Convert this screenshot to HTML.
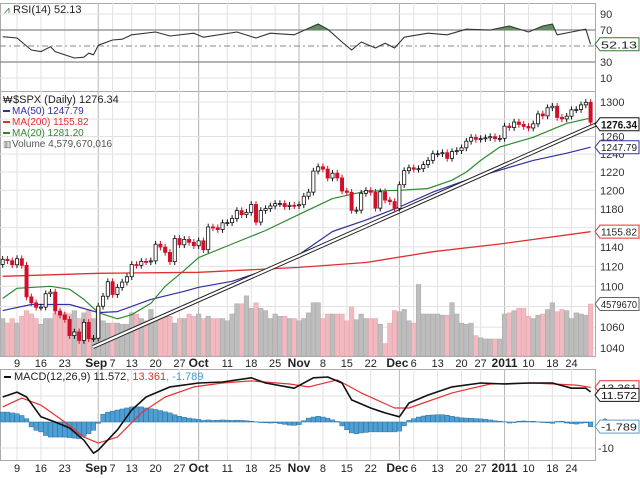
<!DOCTYPE html>
<html><head><meta charset="utf-8"><style>
body{margin:0;background:#fff;}
svg{display:block;font-family:"Liberation Sans",sans-serif;}
</style></head><body>
<svg id="c" width="640" height="478" viewBox="0 0 640 478"></svg>
<script>
const closes=[1127.24,1125.81,1121.64,1127.79,1121.06,1089.47,1083.61,1079.25,1079.38,1092.54,1094.16,1075.63,1071.69,1067.36,1051.87,1055.33,1047.22,1064.59,1048.92,1049.33,
1080.29,1090.10,1104.51,1091.84,1098.87,1104.18,1109.55,1121.90,1121.10,1125.07,1124.66,1125.59,1142.71,1139.78,1134.28,1124.83,1148.67,1142.16,1147.70,1144.73,1141.20,
1146.24,1137.03,1160.75,1159.97,1158.06,1165.15,1165.32,1169.77,1178.10,1173.81,1176.19,1184.71,1165.90,1178.17,1180.26,1183.08,1185.62,1185.64,1182.45,1183.78,1183.26,
1184.38,1193.57,1197.96,1221.06,1225.85,1223.25,1213.40,1218.71,1213.54,1199.21,1197.75,1178.34,1178.59,1196.69,1199.73,1197.84,1180.73,1198.35,1189.40,1187.76,1180.55,
1206.07,1221.53,1224.71,1223.12,1223.75,1228.28,1233.00,1240.40,1240.46,1241.59,1235.23,1242.87,1243.91,1247.08,1254.60,1258.84,1256.77,1257.54,1258.51,1259.78,1257.64,1257.88,
1271.87,1270.20,1276.56,1273.85,1271.50,1269.75,1274.48,1285.96,1283.76,1293.24,1295.02,1281.92,1280.26,1283.35,1290.84,1291.18,1296.63,1299.54,1276.34];
const volumes=[3.3,2.9,3.3,2.9,3.5,4.0,3.7,3.3,2.8,3.3, 3.3,3.8,3.7,3.8,3.7,4.0,3.3,3.8,4.0,3.3,
4.2,3.1,2.9,2.9,2.9,2.8,2.8,3.8,3.7,3.3, 3.1,4.1,3.1,3.5,3.5,3.5,2.9,3.3,3.3,3.7,
3.5,3.7,3.3,3.5,3.3,3.3,3.3,3.1,3.7,4.6, 4.6,5.3,4.2,4.7,4.2,4.0,3.3,3.7,3.5,3.5,
3.3,3.3,3.1,3.3,3.8,4.7,4.7,3.3,3.7,3.7, 3.7,3.7,3.1,4.3,3.2,3.7,3.3,3.3,3.3,2.8,
1.1,2.9,4.0,3.9,4.1,3.1,2.9,6.3,3.7,3.7, 3.7,3.7,3.6,3.6,4.7,3.7,2.9,2.8,2.9,1.8,
1.6,1.5,1.5,1.5,1.5,3.7,3.8,4.0,4.2,4.2, 3.5,3.3,3.6,3.7,4.1,4.7,3.9,4.1,4.0,3.3, 3.8,3.7,3.6,4.58];
const ma20Idx=[0,3,10,14,17,20,24,27,31,34,38,41,48,55,62,69,76,83,89,94,97,100,104,111,118,123];
const ma20Val=[1088,1098,1100,1097,1087,1074,1068,1072,1083,1100,1116,1129,1143,1157,1174,1191,1199,1200,1202,1211,1220,1233,1248,1259,1275,1281.2];
const ma50Idx=[0,6,14,20,24,31,38,41,48,55,62,69,76,83,90,97,104,111,118,123];
const ma50Val=[1076,1082,1082,1074,1075,1087,1095,1099,1105,1116,1132,1156,1168,1182,1198,1211,1222,1233,1241,1247.79];
const ma200Idx=[0,20,41,62,76,90,104,123];
const ma200Val=[1110,1113,1114,1119,1124,1135,1143,1155.82];
const rsiIdx=[0,3,6,8,10,11,15,17,18,19,20,23,25,27,32,35,40,42,49,53,56,61,66,68,71,73,75,78,80,82,84,89,93,97,102,106,110,113,115,116,119,122,123];
const rsiVal=[61.6,60,45,43,49,43,35,36,41,39,51,57.5,58.5,64,67.5,62.5,66,61,67.5,60,66,64,77.5,71,55,45,55,47.5,53.5,47.5,61,66,64,71,70,75,67.5,75,77.5,64,67.5,71,52.13];
const macdIdx=[0,3,5,8,11,14,17,19,20,24,27,30,35,41,46,52,55,61,65,68,71,73,77,80,83,85,89,94,100,105,110,115,119,122,123];
const macdVal=[9.6,11.5,9.6,2,0,-2.3,-7,-12,-10.8,-3,4.6,9.6,13.5,15,15.4,17,15,13,17,17.3,15,8.5,5.4,3.5,2,7.3,10.4,13.5,15,14.6,15,15,13,13,11.572];
const sigIdx=[0,4,8,13,17,20,24,29,34,40,46,52,60,64,70,75,82,85,94,102,111,120,123];
const sigVal=[5.8,9.2,6.5,0,-5.8,-8.1,-5.8,3.5,9.6,13.5,15,15.8,14.6,13.5,16.2,11.2,5.4,5.4,11.2,14.6,15,14.2,13.361];
const hist=[3.8,3.8,3.5,3.2,2.5,1.3,-1.9,-3.2,-3.8,-5.2,-5.8,-5.8,-5.8,-5.8,-6,-6.2,-6.4,-5.5,-4.5,-3.2,-0.5,3.0,3.8,4.2,4.6,5.0,5.4,5.8,5.8,5.8,5.4,5.1,4.8,4.4,3.9,3.5,2.8,2.2,1.8,1.5,1.2,1.0,
0.6,0.8,0.6,0.7,0.8,0.7,0.6,0.7,0.6,0.5,0.3,0.1,-0.2,-0.3,-0.4,-0.3,-0.6,-0.9,-1.2,-1.3,-1.0,0.5,1.5,1.9,2.2,1.9,1.5,0.8,0.2,-1.5,-3.0,-4.2,-4.5,
-4.2,-4.0,-3.8,-3.8,-3.8,-3.8,-3.8,-3.8,-3.5,-1.5,0.6,1.3,1.9,2.3,2.6,2.7,2.8,2.8,2.6,2.2,1.9,1.6,1.5,1.4,1.3,1.2,1.0,0.8,0.5,0.3,0.1,-0.4,-0.2,0.3,0.4,0.2,0.3,0.1,-0.2,-0.3,-0.5,0.2,0.3,-0.4,-0.6,-0.8,-0.5,-0.3,-1.789];
const priceTicks=[1300,1280,1260,1240,1220,1200,1180,1160,1140,1120,1100,1080,1060,1040];
const dateLabels=['9','16','23','Sep','7','13','20','27','Oct','11','18','25','Nov','8','15','22','Dec','6','13','20','27','2011','10','18','24'];
const dateIdx=[3,8,13,20,23,27,32,37,41,47,52,57,62,67,72,77,83,86,91,96,100,105,110,115,119];
const monthIdx=[20,41,62,83,105];

const NS='http://www.w3.org/2000/svg';
const svg=document.getElementById('c');
function mk(tag,attrs,parent){const e=document.createElementNS(NS,tag);for(const k in attrs)e.setAttribute(k,attrs[k]);(parent||svg).appendChild(e);return e;}
const X=i=>2.66+i*4.78;
const PY=v=>102+Math.log(1300/v)*1103;
const RY=v=>30+(70-v)*0.8;
const MY=v=>422-v*2.6;
const VY=v=>356-v*11.35;
const PR=595;

const panels=[[3,91,'rsi-panel'],[91,356,'price-panel'],[369,460,'macd-panel']];
panels.forEach(p=>{const r=mk('rect',{x:0.5,y:p[0]+0.5,width:PR,height:p[1]-p[0],fill:'#fff',stroke:'#aaa'});

});
dateIdx.forEach((d,k)=>{if(dateLabels[k]==='Sep'||dateLabels[k]==='Dec')return;
panels.forEach(p=>{const l=mk('line',{x1:X(d),x2:X(d),y1:p[0],y2:p[1],stroke:'#e2e2e2'});});});
monthIdx.forEach(d=>{panels.forEach(p=>{const l=mk('line',{x1:X(d),x2:X(d),y1:p[0],y2:p[1],stroke:'#b8b8b8'});});});
priceTicks.forEach(t=>{const l=mk('line',{x1:0,x2:PR,y1:PY(t),y2:PY(t),stroke:'#e2e2e2'});
if(t===1280||t===1160||t===1080)return;
const tx=mk('text',{x:600,y:PY(t)+4,'font-size':11,fill:'#333'});tx.textContent=t;});
[90,10].forEach(t=>{const l=mk('line',{x1:0,x2:PR,y1:RY(t),y2:RY(t),stroke:'#e2e2e2'});});
[90,70,30,10].forEach(t=>{const tx=mk('text',{x:600,y:RY(t)+4,'font-size':11,fill:'#333'});tx.textContent=t;});
[70,30].forEach(t=>{const l=mk('line',{x1:0,x2:PR,y1:RY(t),y2:RY(t),stroke:'#888','stroke-width':1.3});});
{const l=mk('line',{x1:0,x2:PR,y1:RY(50),y2:RY(50),stroke:'#888','stroke-dasharray':'6,3,2,3'});}
[10,0,-10].forEach(t=>{const l=mk('line',{x1:0,x2:PR,y1:MY(t),y2:MY(t),stroke:'#e2e2e2'});
const tx=mk('text',{x:t<0?598:602,y:MY(t)+4,'font-size':11,fill:'#333'});tx.textContent=t;});

closes.forEach((c,i)=>{const up=i===0?true:c>=closes[i-1];const y=VY(volumes[i]);
const r=mk('rect',{x:X(i)-2.3,y:y,width:4.6,height:356-y,fill:up?'#bdbdbd':'#f2b9c0',stroke:up?'#a8a8a8':'#e8a4ad','stroke-width':0.5});
});

function line(idx,val,fy,color,w,name){const d=idx.map((i,k)=>(k?'L':'M')+X(i).toFixed(1)+','+fy(val[k]).toFixed(1)).join('');
const p=mk('path',{d:d,fill:'none',stroke:color,'stroke-width':w,'stroke-linejoin':'round'});return d;}
line(ma200Idx,ma200Val,PY,'#e03030',1.3,'ma200-line');
line(ma50Idx,ma50Val,PY,'#3030a0',1.2,'ma50-line');
line(ma20Idx,ma20Val,PY,'#2f8a2f',1.2,'ma20-line');
{const a=mk('line',{x1:93,y1:347,x2:597,y2:124,stroke:'#222','stroke-width':4.2});
const b=mk('line',{x1:93,y1:347,x2:597,y2:124,stroke:'#fff','stroke-width':2.2});}
closes.forEach((c,i)=>{const o=i===0?1122:closes[i-1];const up=c>=o;const col=up?'#111':'#d0102a';
const hi=Math.max(o,c)*1.003,lo=Math.min(o,c)*0.997;
const w=mk('line',{x1:X(i),x2:X(i),y1:PY(hi),y2:PY(lo),stroke:col,'stroke-width':1});
const yt=PY(Math.max(o,c)),yb=PY(Math.min(o,c));
const b=mk('rect',{x:X(i)-1.6,y:yt,width:3.2,height:Math.max(1,yb-yt),fill:up?'#fff':'#d0102a',stroke:col,'stroke-width':0.8});
});

{const d=rsiIdx.map((i,k)=>(k?'L':'M')+X(i).toFixed(1)+','+RY(rsiVal[k]).toFixed(1)).join('');
mk('clipPath',{id:'ob'});const cp=svg.lastChild;mk('rect',{x:0,y:0,width:PR,height:RY(70)},cp);
const f=mk('path',{d:d+'L'+X(123)+','+RY(70)+'L'+X(0)+','+RY(70)+'Z',fill:'#5f8f5f','clip-path':'url(#ob)'});
line(rsiIdx,rsiVal,RY,'#333',1.1,'rsi-line');}

hist.forEach((h,i)=>{const y0=MY(0),y1=MY(h);const r=mk('rect',{x:X(i)-2.3,y:Math.min(y0,y1),width:4.6,height:Math.abs(y1-y0),fill:'#4f9fd4',stroke:'#2a6f9f','stroke-width':0.5});
});
line(sigIdx,sigVal,MY,'#e83030',1.2,'macd-signal-line');
line(macdIdx,macdVal,MY,'#111',1.6,'macd-line');

[363,468].forEach(yy=>{dateLabels.forEach((t,k)=>{const bold=['Sep','Oct','Nov','Dec','2011'].includes(t);
const tx=mk('text',{x:X(dateIdx[k])+(t==='Sep'||t==='Dec'?-2:0),y:yy+4,'font-size':bold?12:11,'font-weight':bold?'bold':'normal','text-anchor':'middle',fill:'#222'});
tx.textContent=t;});});

function tag(y,txt,color,bold,fill){const g=mk('g',{});
mk('path',{d:`M595,${y} L600,${y-6.5} L639,${y-6.5} L639,${y+6.5} L600,${y+6.5} Z`,fill:'#fff',stroke:color,'stroke-width':1},g);
const t=mk('text',{x:601,y:y+4,'font-size':bold?11:10.5,'font-weight':bold?'bold':'normal',fill:fill||color,textLength:36,lengthAdjust:'spacingAndGlyphs'},g);t.textContent=txt;
}
tag(RY(52.13),'52.13','#2f7a2f',false,'#222');
tag(PY(1276.34)+2,'1276.34','#111',true);
tag(PY(1247.79),'1247.79','#3030a0',false,'#222');
tag(PY(1155.82),'1155.82','#e03030',false,'#222');
tag(VY(4.58),'4579670','#666',false,'#222');
tag(MY(13.361),'13.361','#e03030',false,'#222');
tag(MY(11.572)+3,'11.572','#111',false,'#111');
tag(MY(-1.789),'-1.789','#4f9fd4',false,'#222');

function txt(x,y,s,color,name,size){const t=mk('text',{x:x,y:y,'font-size':size||11,fill:color});t.textContent=s;return t;}
txt(4,13,'⩘','#2f6f2f','rsi-icon',10);
txt(13,13,'RSI(14) 52.13','#222','rsi-legend');
txt(3,103,'₩','#222','price-icon',10);
txt(13,103,'$SPX (Daily) 1276.34','#222','price-legend');
mk('rect',{x:3,y:110,width:7,height:2,fill:'#3030a0'});txt(12,114,'MA(50) 1247.79','#3030a0','ma50-legend',10);
mk('rect',{x:3,y:121,width:7,height:2,fill:'#e03030'});txt(12,125,'MA(200) 1155.82','#e03030','ma200-legend',10);
mk('rect',{x:3,y:132,width:7,height:2,fill:'#2f8a2f'});txt(12,136,'MA(20) 1281.20','#2f8a2f','ma20-legend',10);
txt(3,147,'▥','#666','volume-icon',9);txt(12,147,'Volume 4,579,670,016','#555','volume-legend',10);
mk('rect',{x:4,y:376,width:7,height:2,fill:'#111'});
{const t=mk('text',{x:14,y:380,'font-size':11,fill:'#222'});
t.innerHTML='MACD(12,26,9) 11.572<tspan fill="#e03030">, 13.361</tspan><tspan fill="#3a9ad6">, -1.789</tspan>';}
</script>
</body></html>
